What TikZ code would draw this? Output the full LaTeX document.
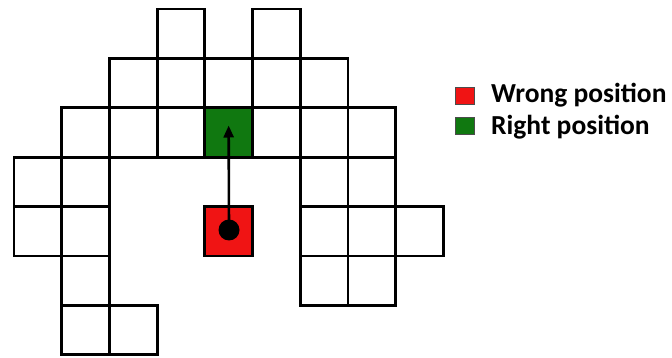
\documentclass[tikz,border=0pt]{standalone}
\usepackage{fontspec}
\setmainfont{Carlito}
\usetikzlibrary{arrows.meta}
\definecolor{wrongred}{RGB}{240,20,20}
\definecolor{rightgreen}{RGB}{16,120,16}
\begin{document}
\begin{tikzpicture}[x=1pt,y=-1pt,
  cell/.style={draw=black,line width=2.8pt,minimum width=47.7pt,minimum height=49.4pt,inner sep=0pt,outer sep=0pt},
  legbox/.style={draw=black!70,line width=0.8pt,minimum width=19pt,minimum height=17pt,inner sep=0pt},
  legtext/.style={anchor=west,font=\bfseries\fontsize{27.5}{30}\selectfont,inner sep=0pt}]
\useasboundingbox (0,0) rectangle (672,358);
\fill[white] (0,0) rectangle (672,358);
\foreach \c/\r in {3/0,5/0,
  2/1,3/1,4/1,5/1,6/1,
  1/2,2/2,3/2,5/2,6/2,7/2,
  0/3,1/3,6/3,7/3,
  0/4,1/4,6/4,7/4,8/4,
  1/5,6/5,7/5,
  1/6,2/6}
  \node[cell] (c\c-\r) at ({14+47.7*(\c+0.5)},{9+49.4*(\r+0.5)}) {};
\node[cell,fill=rightgreen] (green) at ({14+47.7*4.5},{9+49.4*2.5}) {};
\node[cell,fill=wrongred] (red) at ({14+47.7*4.5},{9+49.4*4.5}) {};
\node[circle,fill=black,minimum size=21pt,inner sep=0pt] (dot) at (229,230) {};
\draw[line width=2.6pt,-{Triangle[length=12pt,width=10pt]}] (dot.center) -- ([yshift=7]green.center);
\node[legbox,fill=wrongred] (lr) at (465,95.5) {};
\node[legbox,fill=rightgreen] (lg) at (465,126) {};
\node[legtext] (tw) at (491,95) {Wrong position};
\node[legtext] (tr) at (491,127) {Right position};
\end{tikzpicture}
\end{document}
